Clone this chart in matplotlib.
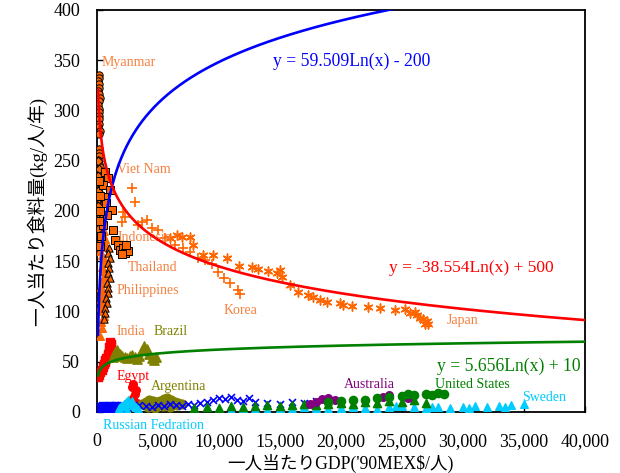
import numpy as np
import matplotlib
matplotlib.use("Agg")
from matplotlib import pyplot as plt
from matplotlib.ticker import StrMethodFormatter

plt.rcParams['font.family'] = ['Liberation Serif', 'Noto Sans CJK JP']

# ---- data (GDP per capita '90 MEX$, food per capita kg/person/year) ----
myanmar_gdp = [150, 180, 120, 210, 160, 140, 190, 230, 170, 130, 200, 150, 180, 220, 160, 140, 250, 190, 170,
               150, 210, 130, 180, 240, 160, 200, 150, 270, 190, 140, 220, 170, 300, 180, 150, 260, 200, 130, 230, 170]
myanmar_food = [335, 332, 329, 326, 322, 319, 316, 312, 309, 305, 301, 298, 294, 291, 287, 284, 280, 277, 262,
                258, 255, 251, 247, 244, 240, 236, 232, 228, 224, 220, 215, 210, 205, 200, 195, 190, 185, 180, 175, 170]

other_gdp = [120, 150, 100, 180, 130, 160, 110, 140, 170, 120, 150, 190]
other_food = [250, 242, 235, 228, 220, 212, 205, 198, 190, 182, 175, 168]

vietnam_gdp = [650, 900, 490, 1070, 570, 740, 1230, 820, 1310, 490, 200, 250, 300, 200, 350, 280]
vietnam_food = [239, 233, 226, 221, 214, 208, 201, 196, 181, 186, 230, 215, 200, 190, 175, 165]

indonesia_gdp = [1475, 1720, 1890, 2130, 2300, 2540, 2050, 2380]
indonesia_food = [171, 166, 161, 163, 158, 160, 157, 166]

korea_gdp = [2870, 3115, 2131, 2049, 2295, 3361, 3689, 4098, 4508, 5000, 5574, 6393, 7049, 7623, 8279, 8853,
             9427, 9918, 10410, 10902, 11558, 11722]
korea_food = [223, 209, 199, 189, 194, 186, 189, 191, 183, 181, 173, 166, 163, 159, 153, 151,
              147, 139, 133, 128, 121, 117]

japan_gdp = [5984, 6558, 6967, 7623, 7869, 8689, 9509, 10656, 11640, 12705, 13197, 14017, 14755, 15001, 15165,
             15820, 16476, 17296, 17706, 18280, 18853, 19919, 20165, 20902, 22214, 23197, 24427, 25246, 25656,
             26066, 26230, 26476, 26722, 27050, 26886, 27132]
japan_food = [173, 176, 174, 174, 166, 156, 156, 153, 145, 144, 142, 140, 138, 141, 134,
              126, 119, 116, 114, 111, 109, 108, 106, 105, 104, 103, 101, 102, 98,
              99, 96, 94, 93, 91, 88, 88]

philippines_gdp = [1000, 950, 1050, 900, 1000, 950, 1050, 850, 950, 900, 800, 850, 700, 650, 600]
philippines_food = [163, 158, 153, 148, 143, 138, 133, 128, 123, 118, 113, 108, 103, 98, 93]

india_gdp = [300, 400, 350, 500, 450, 600, 550, 700, 650, 800, 300, 450, 600, 750, 400, 550, 700, 500, 650, 350,
             480, 620, 380, 520, 300, 420, 560, 330, 460, 250]
india_food = [200, 196, 192, 188, 184, 180, 176, 172, 168, 164, 160, 156, 152, 148, 144, 140, 136, 132, 128, 124,
              120, 116, 112, 108, 104, 100, 95, 90, 84, 76]

egypt_gdp = [100, 200, 300, 400, 500, 600, 650, 700, 800, 900, 950, 1000, 1050, 1100, 1150, 1200, 1000, 1100]
egypt_food = [35, 37, 40, 42, 45, 48, 50, 52, 54, 56, 58, 60, 62, 64, 66, 68, 65, 70]

red2_gdp = [2600, 2800, 3000, 3100, 3200, 2900, 3300, 3400, 3000]
red2_food = [6, 10, 14, 18, 22, 25, 9, 7, 28]

brazil_gdp = [1300, 1500, 1700, 1900, 2100, 2300, 2500, 2700, 2900, 3100, 3300, 3500, 3700, 3900, 4100, 4300,
              4500, 4700, 4900]
brazil_food = [55, 60, 62, 58, 56, 55, 54, 56, 57, 55, 53, 56, 62, 66, 63, 58, 54, 52, 55]

argentina_gdp = [3700, 4000, 4300, 4600, 4900, 5200, 5500, 5800, 6100, 6400, 6700, 4200, 4800, 5400, 6000, 6600, 7000]
argentina_food = [8, 10, 12, 11, 10, 11, 13, 14, 12, 10, 9, 5, 4, 6, 5, 7, 8]

blue_gdp = [500, 1000, 1500, 2000, 2500, 3000, 3500, 4000, 4500, 5000, 5500, 6000, 6500, 7000, 7500, 8000, 8500,
            9000, 9500, 10000, 10500, 11000, 11500, 12000, 12500, 13000, 14000, 15000, 16000, 17000, 18000, 19000, 20000]
blue_food = [6, 5, 7, 6, 8, 5, 7, 6, 5, 7, 6, 8, 7, 6, 8, 7, 9,
             10, 12, 14, 13, 15, 12, 11, 14, 10, 9, 8, 10, 9, 11, 10, 9]

blue2_gdp = [100, 300, 500, 700, 900, 1100, 1300, 1500, 1700, 1900, 2100, 2300]
blue2_food = [4, 5, 6, 5, 4, 6, 5, 4, 6, 5, 4, 5]

russia_gdp = [1800, 2000, 2200, 2400, 2600, 2800, 3000, 3200, 3400, 2500, 2900]
russia_food = [4, 6, 8, 10, 12, 9, 7, 5, 3, 2, 11]

sweden_gdp = [10000, 11000, 12000, 13000, 14000, 15000, 16000, 17000, 18000, 19000, 20000, 21000, 22000, 23000,
              24000, 24500, 25000, 26000, 27000, 27500, 28000, 29000, 30000, 30500, 31000, 32000, 33000, 33500,
              34000, 35000]
sweden_food = [3, 2, 4, 3, 2, 4, 3, 5, 4, 3, 4, 5, 4, 3,
               5, 6, 6, 5, 4, 5, 5, 4, 5, 4, 6, 5, 6, 5, 7, 8]

us_tri_gdp = [8000, 9000, 10000, 11000, 12000, 13000, 14000, 15000, 16000, 17000, 18000, 19000, 20000, 21000,
              22000, 23000, 24000, 25000, 26000, 27000]
us_tri_food = [4, 5, 4, 6, 5, 6, 7, 6, 7, 8, 7, 8, 9, 8, 10, 9, 11, 10, 12, 9]
us_circ_gdp = [19000, 20000, 21000, 22000, 23000, 24000, 25000, 25500, 26000, 27000, 27500, 28000, 28500]
us_circ_food = [10, 11, 12, 12, 14, 15, 16, 18, 17, 18, 17, 19, 18]

aus_gdp = [17500, 18000, 18500, 19000, 19500, 23500, 24000, 25000, 25500]
aus_food = [8, 10, 13, 14, 12, 15, 17, 16, 14]

# trend lines (coefficients as printed on the chart)
trends = [(59.509, -200, 'blue'), (-38.554, 500, 'red'), (5.656, 10, 'green')]

orange = '#FF6600'
lbl_orange = '#F5803E'
olive = '#808000'
cyan = '#00CCFF'

fig = plt.figure(figsize=(6.2, 4.73), dpi=100)
ax = fig.add_axes([0.156, 0.129, 0.787, 0.850])

ax.scatter(india_gdp, india_food, marker='^', s=30, color=orange, zorder=3)
ax.scatter(myanmar_gdp, myanmar_food, marker='o', s=28, color=orange, edgecolor='black', linewidth=0.7, zorder=3)
ax.scatter(other_gdp, other_food, marker='D', s=20, color=orange, edgecolor='black', linewidth=0.7, zorder=3)
ax.scatter(vietnam_gdp, vietnam_food, marker='s', s=28, color=orange, edgecolor='black', linewidth=0.7, zorder=3)
ax.scatter(indonesia_gdp, indonesia_food, marker='s', s=30, color=orange, edgecolor='black', linewidth=0.7, zorder=3)
ax.scatter(philippines_gdp, philippines_food, marker='^', s=28, color=orange, edgecolor='black', linewidth=0.7, zorder=3)
ax.scatter(korea_gdp, korea_food, marker='+', s=45, color=orange, linewidth=1.2, zorder=3)
ax.scatter(japan_gdp, japan_food, marker=(6, 2, 0), s=40, color=orange, linewidth=1.1, zorder=3)
ax.scatter(egypt_gdp, egypt_food, marker='s', s=30, color='red', zorder=3)
ax.scatter(red2_gdp, red2_food, marker='o', s=30, color='red', zorder=3)
ax.scatter(brazil_gdp, brazil_food, marker='^', s=45, color=olive, zorder=3)
ax.scatter(argentina_gdp, argentina_food, marker='o', s=40, color=olive, zorder=3)
ax.scatter(blue2_gdp, blue2_food, marker='s', s=30, color='blue', zorder=3)
ax.scatter(blue_gdp, blue_food, marker='x', s=25, color='blue', linewidth=1.2, zorder=3)
ax.scatter(russia_gdp, russia_food, marker='^', s=30, color=cyan, zorder=3)
ax.scatter(sweden_gdp, sweden_food, marker='^', s=30, color=cyan, zorder=3)
ax.scatter(us_tri_gdp, us_tri_food, marker='^', s=35, color='green', zorder=3)
ax.scatter(aus_gdp, aus_food, marker='o', s=30, color='purple', zorder=3)
ax.scatter(us_circ_gdp, us_circ_food, marker='o', s=35, color='green', zorder=3)

xs = np.geomspace(105, 40000, 400)
for a, b, c in trends:
    ax.plot(xs, a * np.log(xs) + b, color=c, linewidth=1.9, zorder=4)

# country labels
labels = [
    ('Myanmar', 400, 348, lbl_orange), ('Viet Nam', 1640, 241, lbl_orange),
    ('Indonesia', 1720, 174, lbl_orange), ('Thailand', 2540, 144, lbl_orange),
    ('Philippines', 1640, 121, lbl_orange), ('Korea', 10410, 101, lbl_orange),
    ('Japan', 28700, 91.5, lbl_orange), ('India', 1640, 80, lbl_orange),
    ('Brazil', 4670, 80, olive), ('Egypt', 1640, 35, 'red'),
    ('Argentina', 4430, 25, olive), ('Australia', 20250, 27, 'purple'),
    ('United States', 27700, 27, 'green'), ('Sweden', 34900, 14, cyan),
    ('Russian Fedration', 490, -13, cyan),
]
for name, x, y, c in labels:
    ax.text(x, y, name, color=c, fontsize=10, ha='left', va='center', zorder=3.5, clip_on=False)

ax.text(14430, 349, 'y = 59.509Ln(x) - 200', color='blue', fontsize=12.7, va='center', zorder=5)
ax.text(23930, 143, 'y = -38.554Ln(x) + 500', color='red', fontsize=12.5, va='center', zorder=5)
ax.text(27870, 45, 'y = 5.656Ln(x) + 10', color='green', fontsize=12.7, va='center', zorder=5)

ax.set_xlim(0, 40000)
ax.set_ylim(0, 400)
ax.set_xticks(np.arange(0, 40001, 5000))
ax.set_yticks(np.arange(0, 401, 50))
ax.xaxis.set_major_formatter(StrMethodFormatter('{x:,.0f}'))
ax.tick_params(direction='in', length=4, width=1, labelsize=13)
ax.tick_params(axis='x', pad=15)
ax.tick_params(axis='y', pad=12)
for s in ax.spines.values():
    s.set_linewidth(1.3)

ax.set_xlabel("一人当たりGDP('90MEX$/人)", fontsize=12.7, labelpad=3)
ax.set_ylabel('一人当たり食料量(kg/人/年)', fontsize=13.5, labelpad=4)

fig.savefig('out.png', dpi=100)
